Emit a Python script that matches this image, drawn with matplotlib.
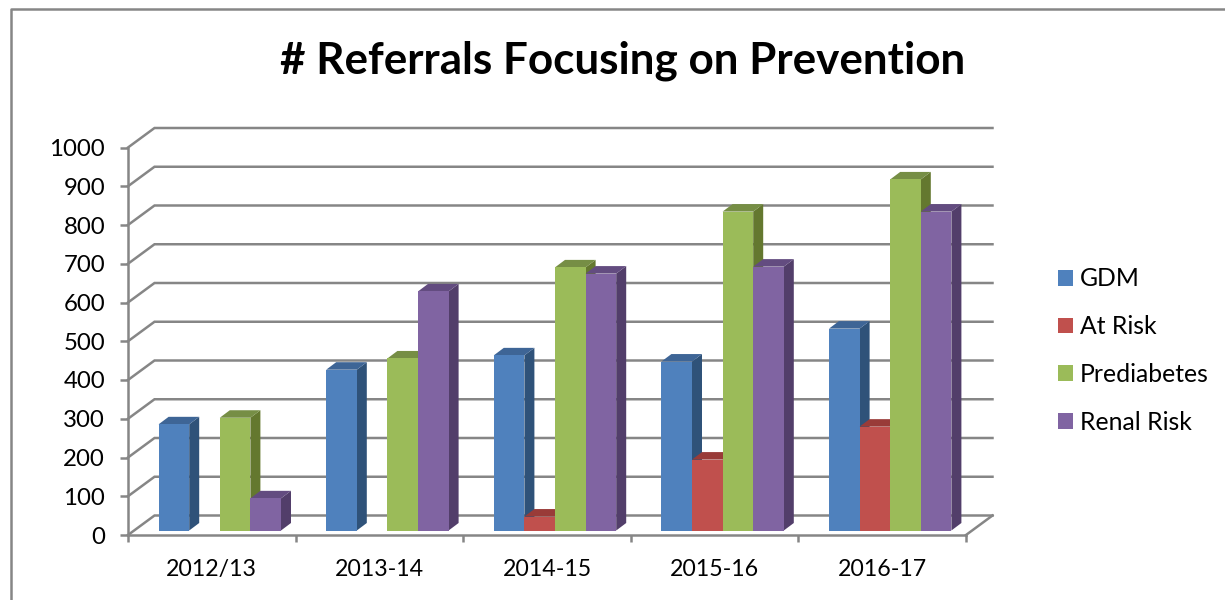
import matplotlib
matplotlib.use("Agg")
import matplotlib.pyplot as plt
from matplotlib.lines import Line2D
from matplotlib.patches import Patch

plt.rcParams['font.family'] = ['Lato', 'DejaVu Sans']

categories = ['2012/13', '2013-14', '2014-15', '2015-16', '2016-17']
gdm = [274, 415, 452, 436, 521]
at_risk = [0, 0, 36, 183, 268]
prediabetes = [291, 444, 679, 823, 906]
renal_risk = [83, 617, 663, 681, 823]
series_names = ['GDM', 'At Risk', 'Prediabetes', 'Renal Risk']
yticks = list(range(0, 1001, 100))

W, H = 1225, 600
front = '#4F81BD #C0504D #9BBB59 #8064A2'.split()
side = '#2F5279 #7E2F2C #64782F #523E6A'.split()
top = '#3E6596 #993B38 #768E45 #634C80'.split()
grid = '#868686'

fig = plt.figure(figsize=(W / 100, H / 100), dpi=100, facecolor='white')
ax = fig.add_axes([128 / W, 1 - 535 / H, (966 - 128) / W, (535 - 147.5) / H])
ax.set_xlim(0, 5)
ax.set_ylim(0, 1000)
ax.patch.set_visible(False)

px_x = 5 / (966 - 128)      # one pixel in x units
px_y = 1000 / (535 - 147.5)  # one pixel in y units
wall_dx, wall_dy = 26.5 * px_x, 19.5 * px_y
base_dx, base_dy = 8 * px_x, 4.5 * px_y
bar_w = 30.6 * px_x
dep_dx, dep_dy = 10 * px_x, 7.5 * px_y
LW = 1.8

# walls
for v in yticks:
    ax.plot([0, wall_dx, 5 + wall_dx], [v, v + wall_dy, v + wall_dy], color=grid,
            lw=LW, clip_on=False, zorder=1, solid_joinstyle='miter')
ax.plot([5, 5 + wall_dx], [0, wall_dy], color=grid, lw=LW, clip_on=False, zorder=1)

# bars
all_series = [gdm, at_risk, prediabetes, renal_risk]
z = 2
for i in range(len(categories)):
    cx = i + 0.5 + base_dx
    for j, vals in enumerate(all_series):
        v = vals[i]
        if v <= 0:
            continue
        x0 = cx + (j - 2) * bar_w
        x1 = x0 + bar_w
        y0 = base_dy
        y1 = base_dy + v
        ax.fill([x1, x1 + dep_dx, x1 + dep_dx, x1],
                [y0, y0 + dep_dy, y1 + dep_dy, y1], color=side[j], lw=0, clip_on=False, zorder=z)
        ax.fill([x0, x0 + dep_dx, x1 + dep_dx, x1],
                [y1, y1 + dep_dy, y1 + dep_dy, y1], color=top[j], lw=0, clip_on=False, zorder=z)
        ax.bar(x0, v, width=bar_w, bottom=y0, align='edge', color=front[j], lw=0, zorder=z + 0.5, clip_on=False)
        z += 1

for s in ['top', 'right']:
    ax.spines[s].set_visible(False)
for s in ['left', 'bottom']:
    ax.spines[s].set_color(grid)
    ax.spines[s].set_linewidth(LW)

ax.set_yticks(yticks)
ax.set_xticks(range(6))
ax.set_xticklabels([])
ax.set_xticks([i + 0.5 for i in range(5)], minor=True)
ax.set_xticklabels(categories, minor=True, fontsize=16.7, color='black')
ax.tick_params(axis='x', which='major', length=5, width=LW, color=grid)
ax.tick_params(axis='x', which='minor', length=0, pad=17.5)
ax.tick_params(axis='y', length=6, width=LW, color=grid, labelsize=17.3, pad=10.5)

fig.text(622.5 / W, 1 - 61 / H, '# Referrals Focusing on Prevention', ha='center', va='center',
         fontsize=31.7, fontweight='bold', color='black')

handles = [Patch(facecolor=c, edgecolor='none') for c in front]
fig.legend(handles, series_names, loc='center left', bbox_to_anchor=(1058 / W, 1 - 350.5 / H),
           frameon=False, fontsize=17.8, labelspacing=1.0, handlelength=0.61, handleheight=0.61,
           handletextpad=0.27, borderpad=0, borderaxespad=0)

fig.add_artist(Line2D([11 / W, 11 / W, 1], [0, 1 - 9 / H, 1 - 9 / H], color=grid, lw=LW,
                      transform=fig.transFigure))
fig.savefig('out.png', dpi=100, facecolor='white')
